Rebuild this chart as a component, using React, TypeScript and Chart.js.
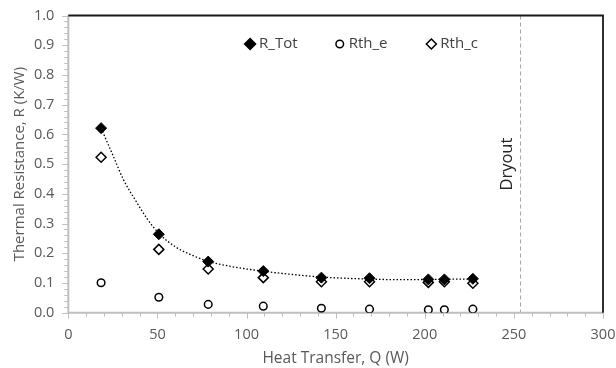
import React, { useEffect, useRef } from "react";
import { Chart, registerables } from "chart.js";

Chart.register(...registerables);

// ---- data ----
const heatQ = [18.4, 50.8, 78.5, 109.4, 142, 169, 202, 211, 227];
const rTot = [0.621, 0.264, 0.172, 0.14, 0.118, 0.116, 0.112, 0.112, 0.114];
const rthE = [0.101, 0.052, 0.028, 0.022, 0.015, 0.012, 0.01, 0.01, 0.012];
const rthC = [0.523, 0.213, 0.147, 0.118, 0.104, 0.104, 0.102, 0.104, 0.099];
const trendQ = [18.4, 25, 31, 38, 44, 51, 60, 70, 79, 90, 100, 110, 125, 142, 155, 170, 185, 202, 215, 227];
const trendR = [0.621, 0.53, 0.447, 0.375, 0.318, 0.266, 0.222, 0.192, 0.172, 0.157, 0.147, 0.139, 0.129, 0.12, 0.116, 0.113, 0.111, 0.112, 0.113, 0.113];
const seriesNames = ["R_Tot", "Rth_e", "Rth_c"];
const dryoutQ = 253.4;
const dryoutLabel = "Dryout";
const xTitle = "Heat Transfer, Q (W)";
const yTitle = "Thermal Resistance, R (K/W)";

const FONT = "'Open Sans', 'Noto Sans', sans-serif";
const TICK_COLOR = "#595959";

function drawMarker(ctx: CanvasRenderingContext2D, style: string, x: number, y: number, r: number) {
  ctx.beginPath();
  if (style === "circle") {
    ctx.arc(x, y, r, 0, Math.PI * 2);
  } else {
    ctx.moveTo(x, y - r);
    ctx.lineTo(x + r, y);
    ctx.lineTo(x, y + r);
    ctx.lineTo(x - r, y);
    ctx.closePath();
  }
  ctx.fill();
  ctx.stroke();
}

const framePlugin = {
  id: "frame",
  beforeDatasetsDraw(chart: any) {
    const { ctx, chartArea: a, scales } = chart;
    const xs = scales.x;
    const ys = scales.y;
    ctx.save();
    // dryout line
    const dx = xs.getPixelForValue(dryoutQ);
    ctx.strokeStyle = "#a6a6a6";
    ctx.lineWidth = 1;
    ctx.setLineDash([4, 3]);
    ctx.beginPath();
    ctx.moveTo(Math.round(dx) + 0.5, a.top);
    ctx.lineTo(Math.round(dx) + 0.5, a.bottom);
    ctx.stroke();
    ctx.setLineDash([]);
    // dryout text
    ctx.save();
    ctx.translate(dx - 13, ys.getPixelForValue(0.5));
    ctx.rotate(-Math.PI / 2);
    ctx.fillStyle = "#262626";
    ctx.font = `16.5px ${FONT}`;
    ctx.textAlign = "center";
    ctx.textBaseline = "middle";
    ctx.fillText(dryoutLabel, 0, 0);
    ctx.restore();

    // minor / major ticks
    ctx.strokeStyle = "#bfbfbf";
    ctx.lineWidth = 1;
    for (let v = 0; v <= 300.001; v += 10) {
      const px = Math.round(xs.getPixelForValue(v)) + 0.5;
      const major = Math.abs(v % 50) < 0.01;
      ctx.beginPath();
      ctx.moveTo(px, a.bottom);
      ctx.lineTo(px, a.bottom + (major ? 6 : 4));
      ctx.stroke();
    }
    for (let i = 0; i <= 50; i++) {
      const v = i * 0.02;
      const py = Math.round(ys.getPixelForValue(v)) + 0.5;
      const major = i % 5 === 0;
      ctx.beginPath();
      ctx.moveTo(a.left, py);
      ctx.lineTo(a.left - (major ? 6 : 4), py);
      ctx.stroke();
    }
    // axis lines
    ctx.strokeStyle = "#bfbfbf";
    ctx.lineWidth = 2;
    ctx.beginPath();
    ctx.moveTo(a.left, a.top);
    ctx.lineTo(a.left, a.bottom);
    ctx.lineTo(a.right, a.bottom);
    ctx.stroke();
    ctx.strokeStyle = "#1a1a1a";
    ctx.lineWidth = 1.8;
    ctx.beginPath();
    ctx.moveTo(a.left, a.top);
    ctx.lineTo(a.right, a.top);
    ctx.lineTo(a.right, a.bottom);
    ctx.stroke();

    // legend inside plot
    const ly = ys.getPixelForValue(0.904);
    const lx = [xs.getPixelForValue(102), xs.getPixelForValue(152.3), xs.getPixelForValue(203.7)];
    const styles = [
      { style: "rectRot", fill: "#000", r: 5.5 },
      { style: "circle", fill: "#fff", r: 3.8 },
      { style: "rectRot", fill: "#fff", r: 5 },
    ];
    seriesNames.forEach((name, i) => {
      ctx.fillStyle = styles[i].fill;
      ctx.strokeStyle = "#000";
      ctx.lineWidth = 1.5;
      drawMarker(ctx, styles[i].style, lx[i], ly, styles[i].r);
      ctx.fillStyle = "#404040";
      ctx.font = `15px ${FONT}`;
      ctx.textAlign = "left";
      ctx.textBaseline = "middle";
      ctx.fillText(name, lx[i] + 9, ly);
    });
    ctx.restore();
  },
};

export default function App() {
  const ref = useRef<HTMLCanvasElement>(null);
  useEffect(() => {
    document.body.style.margin = "0";
    const toPts = (xs: number[], ys: number[]) => xs.map((x, i) => ({ x, y: ys[i] }));
    const chart = new Chart(ref.current!, {
      type: "scatter",
      data: {
        datasets: [
          {
            label: seriesNames[0],
            data: toPts(heatQ, rTot),
            pointStyle: "rectRot",
            pointRadius: 5.5,
            backgroundColor: "#000",
            borderColor: "#000",
            borderWidth: 1,
            order: 1,
          },
          {
            label: seriesNames[1],
            data: toPts(heatQ, rthE),
            pointStyle: "circle",
            pointRadius: 3.8,
            backgroundColor: "#fff",
            borderColor: "#000",
            borderWidth: 1.5,
            order: 3,
          },
          {
            label: seriesNames[2],
            data: toPts(heatQ, rthC),
            pointStyle: "rectRot",
            pointRadius: 5,
            backgroundColor: "#fff",
            borderColor: "#000",
            borderWidth: 1.5,
            order: 2,
          },
          {
            label: "trend",
            type: "line",
            data: toPts(trendQ, trendR),
            showLine: true,
            pointRadius: 0,
            borderColor: "#000",
            borderWidth: 1.3,
            borderDash: [1.5, 2],
            cubicInterpolationMode: "monotone",
            fill: false,
            order: 4,
          } as any,
        ],
      },
      options: {
        animation: false,
        responsive: false,
        maintainAspectRatio: false,
        layout: { padding: { top: 15.5, right: 13, left: 0, bottom: 0 } },
        plugins: { legend: { display: false }, tooltip: { enabled: false } },
        scales: {
          x: {
            type: "linear",
            min: 0,
            max: 300,
            grid: { display: false, drawTicks: false },
            border: { display: false },
            ticks: {
              stepSize: 50,
              padding: 13,
              color: TICK_COLOR,
              font: { family: FONT, size: 14.5 },
            },
            title: {
              display: true,
              text: xTitle,
              color: TICK_COLOR,
              font: { family: FONT, size: 15.5 },
              padding: { top: 0, bottom: 0 },
            },
            afterFit: (s: any) => {
              s.height = 55.3;
              s.paddingLeft = 0;
              s.paddingRight = 0;
            },
          },
          y: {
            type: "linear",
            min: 0,
            max: 1,
            grid: { display: false, drawTicks: false },
            border: { display: false },
            ticks: {
              stepSize: 0.1,
              padding: 14,
              color: TICK_COLOR,
              font: { family: FONT, size: 14.5 },
              callback: (v: any) => Number(v).toFixed(1),
            },
            title: {
              display: true,
              text: yTitle,
              color: TICK_COLOR,
              font: { family: FONT, size: 15 },
              padding: { top: 11, bottom: 0 },
            },
            afterFit: (s: any) => {
              s.width = 68.3;
              s.paddingTop = 0;
              s.paddingBottom = 0;
            },
          },
        },
      },
      plugins: [framePlugin],
    });
    return () => chart.destroy();
  }, []);
  return (
    <div style={{ position: "absolute", left: 0, top: 0, width: 616, height: 368 }}>
      <canvas ref={ref} width={616} height={368} style={{ width: 616, height: 368 }} />
    </div>
  );
}
